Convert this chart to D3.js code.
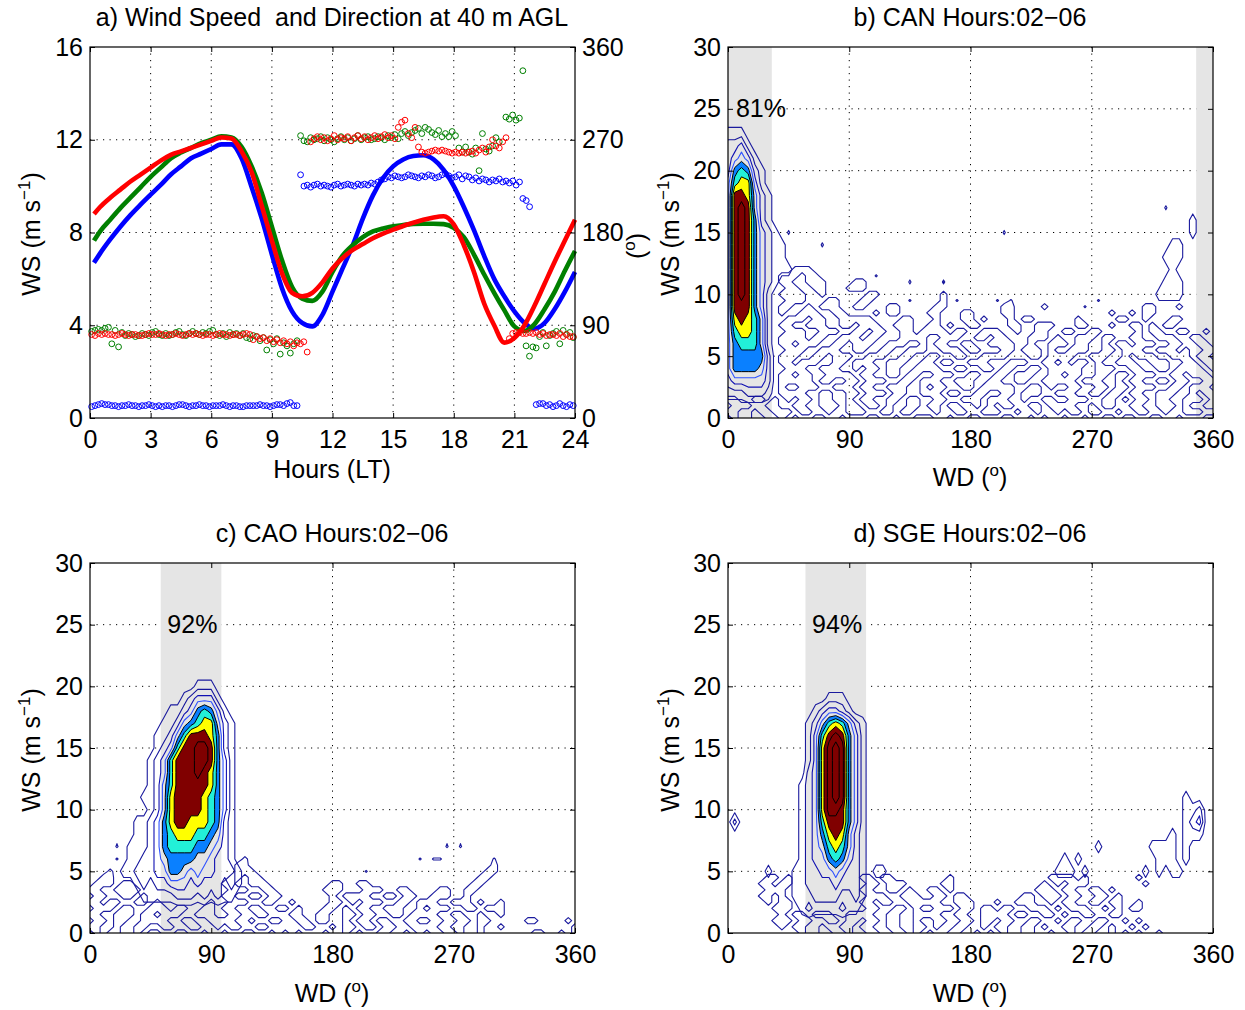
<!DOCTYPE html>
<html>
<head>
<meta charset="utf-8">
<script src="https://cdn.jsdelivr.net/npm/d3@7"></script>
<style>
  body { margin: 0; background: #fff; }
  svg text { font-family: "Liberation Sans", Arial, Helvetica, sans-serif; fill: #000; white-space: pre; }
</style>
</head>
<body>
<svg id="chart" width="1245" height="1010"></svg>
<script>
// ---------- panel a data ----------
var wsHours = [0.2, 0.5, 1, 1.5, 2, 2.5, 3, 3.5, 4, 4.5, 5, 5.5, 6, 6.5, 7, 7.5, 8, 8.5, 9, 9.5,
    10, 10.5, 11, 11.5, 12, 12.5, 13, 13.5, 14, 14.5, 15, 15.5, 16, 16.5, 17, 17.5, 18, 18.5, 19, 19.5,
    20, 20.5, 21, 21.5, 22, 22.5, 23, 23.5, 24];
var wsRed = [8.8, 9.1, 9.5, 9.85, 10.2, 10.5, 10.8, 11.1, 11.35, 11.5, 11.65, 11.8, 11.95, 12.1, 12.05, 11.5, 10.6, 9.15, 7.65, 6.25,
    5.4, 5.25, 5.4, 5.85, 6.45, 6.9, 7.25, 7.5, 7.75, 7.95, 8.12, 8.28, 8.42, 8.55, 8.65, 8.7, 8.35, 7.45, 6.3, 4.95,
    4.0, 3.25, 3.45, 4.0, 4.85, 5.8, 6.75, 7.65, 8.55];
var wsGreen = [7.65, 8.05, 8.55, 9.05, 9.5, 9.95, 10.4, 10.8, 11.2, 11.45, 11.65, 11.85, 12.0, 12.15, 12.1, 11.7, 10.85, 9.7, 8.25, 6.8,
    5.65, 5.15, 5.05, 5.45, 6.3, 7.0, 7.45, 7.8, 8.05, 8.17, 8.27, 8.32, 8.37, 8.38, 8.38, 8.36, 8.2, 7.8, 7.05, 6.2,
    5.4, 4.65, 3.95, 3.75, 4.05, 4.7, 5.45, 6.35, 7.2];
var wsBlue = [6.7, 7.1, 7.7, 8.25, 8.75, 9.2, 9.63, 10.05, 10.5, 10.85, 11.2, 11.4, 11.6, 11.8, 11.8, 11.2, 9.95, 8.6, 7.05, 5.6,
    4.6, 4.1, 3.95, 4.45, 5.45, 6.45, 7.45, 8.6, 9.6, 10.35, 10.85, 11.15, 11.3, 11.33, 11.15, 10.7, 10.0, 9.1, 8.1, 7.0,
    6.0, 5.25, 4.6, 4.1, 3.85, 4.1, 4.7, 5.45, 6.3];

// wind direction, 10-minute values: [start hour, values]
var wdBlue = [
  [0.08, [11,12,13,14,13,13,12,12,11,12,12,13,12,12,11,12,12,13,12,11,12,11,12,12,11,12,13,13,12,11,12,12,13,12,12,11,12,12,12,13,12,11,12,12,11,11,12,12,12,12,13,12,12,11,12,13,13,12,14,15,12,12]],
  [10.42, [236,225,226,224,226,227,225,226,225,
           224,226,227,225,226,227,226,225,227,226,227,226,228,227,229,231,232,
           234,233,235,234,233,234,236,235,234,233,235,234,236,235,233,234,236,237,235,233,234,236,232,235,234,
           231,233,230,232,231,229,231,230,232,229,230,228,230,226,229]],
  [21.42, [213,211,205]],
  [22.08, [13,14,14,12,13,11,12,14,12,11,13,12]]
];
var wdGreen = [
  [0.08, [84,85,86,85,87,88,72,85,69,83,80,82,81,79,80,82,81,80,83,84,81,80,82,80,81,83,84,81,80,82,84,82,81,83,82,84,85,81,80,82,79,83,81,82,80,82,78,77,80,79,75,78,66,76,72,77,62,73,70,63,72,75]],
  [10.42, [274,269,268,272,270,271,273,269,272,270,268,271,273,270,272,269,271,274,270,272,273,270,271,273,272,270,274,272,275,
           271,276,278,274,277,279,281,276,282,280,277,275,279,273,
           276,273,278,274,262,258,
           263,258,256,262,240,276,261,259,264,272,268]],
  [20.58, [292,290,294,289,291]],
  [21.42, [337]],
  [21.58, [70,60,69,68,79,83,70,80,82,84,72,85,81,83,78]]
];
var wdRed = [
  [0.08, [81,80,82,81,82,81,81,80,81,82,81,80,81,81,80,80,81,82,81,81,82,81,80,81,81,82,81,80,81,82,81,82,81,80,81,81,80,81,82,81,81,80,81,81,80,81,82,81,
          76,79,77,78,75,77,74,76,73,75,72,74,70,73,72,74,64]],
  [10.92, [268,271,273,270,272,269,271,274,270,272,271,273,269,272,274,271,273,270,272,274,271,273,275,272,274,271,
           282,287,289,276,272,282,
           263,258,257,258,259,260,259,260,259,258,257,258,257,
           258,257,258,259,257,260,262,258,263,270,264,262,268,272]],
  [20.75, [77,82,83,83,82,82,83,82,83,81,82,80,81,81,80,82,79,81,79,79]]
];
var hourTicks = [0, 3, 6, 9, 12, 15, 18, 21, 24];
var wsTicksA = [0, 4, 8, 12, 16];
var wdTicksA = [0, 90, 180, 270, 360];

// ---------- panels b-d data: occurrence classes ----------
// columns: WD = 0..360 every 5 deg (groups of 10); rows listed from high WS to WS = 0
// coarse grids: 1 m/s rows from WS 24; fine grids: 0.5 m/s rows (low-speed scatter)
// '.' = 0, 'a' = trace, 'b' = 0.8, digits = class, 'A' = 10
var wdStep = 5, wsStepCoarse = 1, wsStepFine = 0.5;
var E = ".......... .......... .......... .......... .......... .......... .......... ...";
var gridB = [
  E,
  "111....... .......... .......... .......... .......... .......... .......... ...",
  "2231...... .......... .......... .......... .......... .......... .......... ...",
  "23431..... .......... .......... .......... .......... .......... .......... ...",
  "256521.... .......... .......... .......... .......... .......... .......... ...",
  "367731.... .......... .......... .......... .......... .......... .......... ...",
  "3887421... .......... .......... .......... .......... .......... .......... ...",
  "3898421... .......... .......... .......... .......... .......... .....a.... ...",
  "3898521... .......... .......... .......... .......... .......... .........1 ...",
  "38985321.a .......... .......... .......... .a........ .......... .........1 ...",
  "389853211. ....a..... .......... .......... .......... .......... ......11.. ...",
  "389853211. .......... .......... .......... .......... .......... .....111.. ...",
  "3898532111 .......... .......... .......... .......... .......... ......1... ...",
  "38985321.. .......... .......a.. ..a....... .......... .......... .....111.. ...",
  "3898531... .......... .......... .......... .......... .......... ....1111.. ...",
  "3888531... .......... .......... .......... .......... .......... .......... ...",
  "3787641... .......... .......... .......... .......... .......... .......... ...",
  "3677641... .......... .......... .......... .......... .......... .......... ...",
  "3566641... .......... .......... .......... .......... .......... .......... ...",
  "3555552... .......... .......... .......... .......... .......... .......... ...",
  "3555542... .......... .......... .......... .......... .......... .......... ...",
  "2333332... .......... .......... .......... .......... .......... .......... ...",
  "1112221... .......... .......... .......... .......... .......... .......... ...",
  E,
  E
];
var fineB = [
  ".......... 111....... .......... .......... .......... .......... .......... ...",
  "........11 1.11...... ..a....... .......... .......... .......... .......... ...",
  "........11 ..111....1 1......... ..a....... .......... .......... .......... ...",
  ".........1 1..11...11 1......... .......... .......... .......... .......... ...",
  "........11 11..1..... .11....... ..1....... .......... .......... .......... ...",
  ".........1 11...11... 11.....a.. ..1.a..... a.a....... .....a.... .......... ...",
  "........11 ..1.111..1 1...11.... .11....... .11....1.. ...a...... ..11...1.. ...",
  "........1. .111..11.. ..1.11.... 11...11... .11....... .......1.. 1.11...... ...",
  ".........1 11.11..111 11....11.. .1...11.1. ..1.11.... ..1.....11 ..1...11.. ...",
  "........11 ..111..11. 111..111.. 11.1..11.. ..11..111. ..11...1.. 11.1.11... ...",
  ".........1 11..111..1 1.11..11.1 111.11..11 1..1..11.. 11..11.... .1.11..11. .1.",
  "........11 11.11..111 .11...1111 ..111..11. 11...111.1 ..111.11.. 11..111..1 1..",
  "........11 .111..11.1 11..111..1 .11..11..1 111..1..11 1.11..1.11 .111..11.. 11.",
  ".........1 11..111..1 1..11..111 ..111.11.. .11.111.1. .111..11.1 11..111.1. .11",
  "........11 1..11.111. .111..11.. 11..11..11 11...11.11 11..111..1 .111..111. 11.",
  "........11 .111..11.1 11..111..1 1.11..111. ..111..11. 1.11.1..11 1..111..11 .11",
  ".........1 11..111..1 .11.11..11 11..11..11 .11..11.11 111..111.. 11..11.111 1.1",
  "........11 .11..1111. 11..11.11. .111..11.. 11.111..11 .11..11.11 .111..11.1 11.",
  "........11 111.11..11 .111..11.1 11..111..1 1..11..111 11.111..1. 11..11.11. .11",
  "........1. .111..111. 11..111..1 .11..11.11 111..11.1. .11..11.11 .111..11.1 11.",
  "........11 11..11..11 .111.11..1 11.11..11. .11.111..1 11..11.11. 11..111..1 .11",
  "11..11.1.1 .11.11..1. 11..11.11. .11..111.1 11..1..11. .111..11.1 .11.11..11 1.1",
  ".111..11.. 11..111.11 .11.1..11. 11.11..1.1 .11..11.11 11..1.11.. 11..111.1. .11",
  "11..1..111 .11..1..11 1..11.11.. .1..11..11 1..1..1..1 .11.11..1. .11..1..11 1..",
  ".1..11..1. 1..11..1.. .11..1..11 1..1..11.. .11..1.1.. 1..1..11.1 1..11..1.. .11"
];
var gridC = [
  E, E, E, E,
  ".......... ......111. .......... .......... .......... .......... .......... ...",
  ".......... ....123331 .......... .......... .......... .......... .......... ...",
  ".......... ..11235653 1......... .......... .......... .......... .......... ...",
  ".......... .112456774 21........ .......... .......... .......... .......... ...",
  ".......... 1124688875 21........ .......... .......... .......... .......... ...",
  ".......... 1236889985 21........ .......... .......... .......... .......... ...",
  ".........1 2368889985 31........ .......... .......... .......... .......... ...",
  ".........1 2368889875 31........ .......... .......... .......... .......... ...",
  ".........1 2468888875 31........ .......... .......... .......... .......... ...",
  "........11 2478888765 31........ .......... .......... .......... .......... ...",
  ".........1 2478888765 31........ .......... .......... .......... .......... ...",
  ".......112 3578877765 21........ .......... .......... .......... .......... ...",
  ".......112 3567776654 21........ .......... .......... .......... .......... ...",
  "......1112 3566665543 21........ .......... .......... .......... .......... ...",
  "......1122 3455554432 21........ .......... .......... .......... .......... ...",
  ".....11222 3355434332 221....... .......... .......... .......... .......... ...",
  ".......121 2233323222 121....... .......... .......... .......... .......... ...",
  "........11 1112221212 11........ .......... .......... .......... .......... ...",
  E, E, E
];
var fineC = [
  "....a..... .......... .......... .......... .......... ...a.a.... .......... ...",
  ".......... .......... .......... .......... .......... .......... .......... ...",
  "....a..... .......... ...b...... .......... .........a .aa....... a......... ...",
  ".......... .......... ..11...... .......... .......... .......... 1......... ...",
  "...b...... .......... ..111..... .......... .a........ .........1 1......... ...",
  "..11...... .......... .11.11.... .......... .......... ........11 .......... ...",
  ".111.11... .......... 11..111... ......11.. 11........ .......11. .......... ...",
  "11..1111.. .......... .111..11.. .....111.. .111..11.. ..11..11.. .......... ...",
  ".11..11.1. .......... 11..11.11. ......1.11 11..11.11. .111..1... .......... ...",
  "11.11..11. 1.......1. .111..11.. 1.....11.1 .111..11.1 11..111.1. .1........ ...",
  ".111.11..1 11.11..11. 11..11..11 .1...11.1. 11..111..1 .111..11.1 11........ ...",
  "11..111.11 .111..111. .11..11... 11..11..11 .11..11.11 11..11..1. .1........ ...",
  ".11.11..11 11..11..11 11..1..11. .11.11..1. 11.11..11. .11..11.11 .....11... .1.",
  "11..1..11. .11..11..1 .11..11... ..11..1.11 .11.11..11 11..11..1. .1........ ..1",
  ".1.11..1.1 1..11..1.. 1..11..1.1 .1...1..1. 1..11..1.1 .11..1..1. ......11.. 1.1"
];
var gridD = [
  E, E, E, E, E,
  ".......... .....111.. .......... .......... .......... .......... .......... ...",
  ".......... ...123321. .......... .......... .......... .......... .......... ...",
  ".......... ..12467642 1......... .......... .......... .......... .......... ...",
  ".......... ..13689853 1......... .......... .......... .......... .......... ...",
  ".......... ..1379A953 1......... .......... .......... .......... .......... ...",
  ".......... ..1379A953 1......... .......... .......... .......... .......... ...",
  ".......... ..2379A953 1......... .......... .......... .......... .......... ...",
  ".......... .12379A953 1......... .......... .......... .......... .......... ...",
  ".......... .12379A953 1......... .......... .......... .......... ........1. ...",
  ".......... .123799853 1......... .......... .......... .......... ........11 2..",
  ".2........ .123688853 1......... .......... .......... .......... ........12 3..",
  ".......... .123578742 1......... .......... .......... .......... ......1.11 1..",
  ".......... .123467642 1......... .......... .......... .....1.... ...1111.1. ...",
  ".......... .123356532 1......... .......... .......... 1.1....... ....111.1. ...",
  "......1... 1122334322 1.11...... .......... .........1 11.1...... ..1.1.11.. ...",
  ".......... 1122223222 1......... .......... .......... .......... .......... ...",
  ".......... 1112222112 1......... .......... .......... .......... .......... ...",
  ".......... .121111211 .......... .......... .......... .......... .......... ...",
  E, E
];
var fineD = [
  "......11.1 .......... 11.11..... ...1...... ........11 11.1...... .1........ ...",
  ".....11.11 .......... .11.111... ..11...... .......1.1 .111...... ..1....... ...",
  "......111. .......... 11..11.1.. 11.1...... ......111. 11..11.1.. .......... ...",
  ".....11.1. .......... .111..111. .11.11.... ....11.111 .11..11.1. .......... ...",
  "......1.11 .......... 11.11..111 11..111... 1..111..1. 11..11.11. .1........ ...",
  ".......111 .......... .11..11.1. .111.11.11 .11..111.1 .111..1.1. 11........ ...",
  "........1. 11.111..11 11..11..11 11..11..11 11.11..11. 1..11..11. .......... ...",
  ".......111 .11..11.11 .11.11..1. .11..11.11 .11..11..1 .11..11..1 .1........ ...",
  "........1. 11..1..11. 11..11..11 .1..11..1. 11..11.1.. 11..11.1.. 1.1....... ...",
  ".......... .1..11..1. .11..11.1. 1..11..1.1 .1..11..1. .1.11..1.1 .1..1..... ..."
];
var cellValue = {".": 0, "a": 0.6, "b": 0.8, "1": 1, "2": 2, "3": 3, "4": 4, "5": 5, "6": 6, "7": 7, "8": 8, "9": 9, "A": 10};
var contourLevels = [0.5, 1.5, 2.5, 3.5, 4.5, 5.5, 6.5, 7.5, 8.5, 9.5];
var bandsB = [[0, 32.5], [347.5, 360]];
var bandsC = [[52.5, 97.5]];
var bandsD = [[57.5, 102.5]];
var pctLabels = ["81%", "92%", "94%"];
var pctWD = [24.5, 76, 81];
var wdTicks = [0, 90, 180, 270, 360];
var wsTicks = [0, 5, 10, 15, 20, 25, 30];

// ---------- drawing ----------
var svg = d3.select("#chart");
var FS = 25;

var levelStyle = [
  {stroke: "#1b1b9e", fill: "none"},
  {stroke: "#15159c", fill: "none"},
  {stroke: "#1010b2", fill: "none"},
  {stroke: "#2f52ff", fill: "none"},
  {stroke: "#000", fill: "#0a80ff"},
  {stroke: "#000", fill: "#22f0d8"},
  {stroke: "#000", fill: "#ffff00"},
  {stroke: "#000", fill: "#800000"},
  {stroke: "#000", fill: "none"},
  {stroke: "#000", fill: "none"}
];

function styleAxis(g) {
    g.attr("font-size", FS).attr("font-family", null);
    g.select(".domain").remove();
    g.selectAll(".tick line").attr("stroke", "#000");
    g.selectAll(".tick text").attr("fill", "#000");
}

function dottedGrid(p, xs, ys, xv, yv) {
    var g = svg.append("g");
    g.selectAll(null).data(xv).enter().append("line")
        .attr("x1", function (d) { return xs(d); }).attr("x2", function (d) { return xs(d); })
        .attr("y1", p.y).attr("y2", p.y + p.h);
    g.selectAll(null).data(yv).enter().append("line")
        .attr("y1", function (d) { return ys(d); }).attr("y2", function (d) { return ys(d); })
        .attr("x1", p.x).attr("x2", p.x + p.w);
    g.selectAll("line").attr("stroke", "#000").attr("stroke-width", 1).attr("stroke-dasharray", "1.2,5.3");
}

function axes(p, xs, ys, xt, yt, ys2, yt2) {
    var b = svg.append("g").attr("transform", "translate(0," + (p.y + p.h) + ")")
        .call(d3.axisBottom(xs).tickValues(xt).tickSize(-5).tickSizeOuter(0).tickPadding(12));
    var t = svg.append("g").attr("transform", "translate(0," + p.y + ")")
        .call(d3.axisTop(xs).tickValues(xt).tickSize(-5).tickSizeOuter(0).tickFormat(""));
    var l = svg.append("g").attr("transform", "translate(" + p.x + ",0)")
        .call(d3.axisLeft(ys).tickValues(yt).tickSize(-5).tickSizeOuter(0).tickPadding(7));
    var r = svg.append("g").attr("transform", "translate(" + (p.x + p.w) + ",0)")
        .call(d3.axisRight(ys2 || ys).tickValues(yt2 || yt).tickSize(-5).tickSizeOuter(0).tickPadding(7)
            .tickFormat(ys2 ? null : ""));
    [b, t, l, r].forEach(styleAxis);
    svg.append("rect").attr("x", p.x).attr("y", p.y).attr("width", p.w).attr("height", p.h)
        .attr("fill", "none").attr("stroke", "#000").attr("stroke-width", 1.2);
}

// label with a superscript part: parts = [before, sup, after]
function supText(x, y, rot, parts) {
    var t = svg.append("text").attr("font-size", FS).attr("text-anchor", "middle")
        .attr("transform", "translate(" + x + "," + y + ")" + (rot ? " rotate(" + rot + ")" : ""));
    t.append("tspan").text(parts[0]);
    t.append("tspan").attr("font-size", 17).attr("dy", -10).text(parts[1]);
    t.append("tspan").attr("dy", 10).text(parts[2]);
    return t;
}

function title(x, y, s) {
    svg.append("text").attr("x", x).attr("y", y).attr("text-anchor", "middle").attr("font-size", FS).text(s);
}

// ----- panel a -----
var pa = {x: 90, y: 47, w: 485, h: 371};
var xA = d3.scaleLinear().domain([0, 24]).range([pa.x, pa.x + pa.w]);
var yWS = d3.scaleLinear().domain([0, 16]).range([pa.y + pa.h, pa.y]);
var yWD = d3.scaleLinear().domain([0, 360]).range([pa.y + pa.h, pa.y]);

dottedGrid(pa, xA, yWS, hourTicks.slice(1, -1), wsTicksA.slice(1, -1));

var lineGen = d3.line()
    .x(function (d, i) { return xA(wsHours[i]); })
    .y(function (d) { return yWS(d); })
    .curve(d3.curveMonotoneX);

[[wsBlue, "#0000ff"], [wsGreen, "#008000"], [wsRed, "#ff0000"]].forEach(function (s) {
    svg.append("path").datum(s[0]).attr("d", lineGen)
        .attr("fill", "none").attr("stroke", s[1]).attr("stroke-width", 4.6)
        .attr("stroke-linejoin", "round").attr("stroke-linecap", "butt");
});

[[wdBlue, "#0000ff"], [wdGreen, "#008000"], [wdRed, "#ff0000"]].forEach(function (s) {
    var pts = [];
    s[0].forEach(function (seg) {
        seg[1].forEach(function (v, k) { pts.push({t: seg[0] + k / 6, v: v}); });
    });
    svg.append("g").selectAll("circle").data(pts).enter().append("circle")
        .attr("cx", function (d) { return xA(d.t); })
        .attr("cy", function (d) { return yWD(d.v); })
        .attr("r", 2.9)
        .attr("fill", "none").attr("stroke", s[1]).attr("stroke-width", 1);
});

axes(pa, xA, yWS, hourTicks, wsTicksA, yWD, wdTicksA);
title(332, 26, "a) Wind Speed  and Direction at 40 m AGL");
svg.append("text").attr("x", 332).attr("y", 478).attr("text-anchor", "middle").attr("font-size", FS).text("Hours (LT)");
supText(40, 234, -90, ["WS (m s", "\u22121", ")"]);
supText(645, 246, -90, ["(", "o", ")"]);

// ----- contour panels -----
function drawContours(g, grid, wsStep, x, y) {
    var rows = grid.map(function (r) { return r.replace(/ /g, ""); }).reverse();
    var nx = 73, ny = rows.length, vals = [];
    rows.forEach(function (r) {
        for (var i = 0; i < nx; i++) vals.push(cellValue[r.charAt(i)] || 0);
    });
    var proj = d3.geoTransform({
        point: function (gx, gy) { this.stream.point(x((gx - 0.5) * wdStep), y((gy - 0.5) * wsStep)); }
    });
    var path = d3.geoPath(proj);
    var cs = d3.contours().size([nx, ny]).thresholds(contourLevels)(vals);
    cs.forEach(function (c, k) {
        var st = levelStyle[k];
        var d = path(c);
        if (!d) return;
        g.append("path").attr("d", d)
            .attr("fill", st.fill).attr("fill-rule", "evenodd")
            .attr("stroke", st.stroke).attr("stroke-width", k < 4 ? 1.1 : 1)
            .attr("stroke-linejoin", "round");
    });
}

function contourPanel(p, id, grid, fine, bands, pi) {
    var x = d3.scaleLinear().domain([0, 360]).range([p.x, p.x + p.w]);
    var y = d3.scaleLinear().domain([0, 30]).range([p.y + p.h, p.y]);

    dottedGrid(p, x, y, wdTicks.slice(1, -1), wsTicks.slice(1, -1));

    svg.append("g").selectAll("rect").data(bands).enter().append("rect")
        .attr("x", function (d) { return x(d[0]); })
        .attr("width", function (d) { return x(d[1]) - x(d[0]); })
        .attr("y", p.y).attr("height", p.h).attr("fill", "#e5e5e5");

    svg.append("clipPath").attr("id", id).append("rect")
        .attr("x", p.x).attr("y", p.y).attr("width", p.w).attr("height", p.h);
    var cg = svg.append("g").attr("clip-path", "url(#" + id + ")");
    drawContours(cg, fine, wsStepFine, x, y);
    drawContours(cg, grid, wsStepCoarse, x, y);

    svg.append("text").attr("x", x(pctWD[pi])).attr("y", y(25) + 8)
        .attr("text-anchor", "middle").attr("font-size", FS).text(pctLabels[pi]);

    axes(p, x, y, wdTicks, wsTicks);
}

var pb = {x: 728, y: 47, w: 485, h: 371};
var pc = {x: 90, y: 563, w: 485, h: 370};
var pd = {x: 728, y: 563, w: 485, h: 370};

contourPanel(pb, "clipb", gridB, fineB, bandsB, 0);
contourPanel(pc, "clipc", gridC, fineC, bandsC, 1);
contourPanel(pd, "clipd", gridD, fineD, bandsD, 2);

title(970, 26, "b) CAN Hours:02\u221206");
title(332, 542, "c) CAO Hours:02\u221206");
title(970, 542, "d) SGE Hours:02\u221206");

supText(970, 486, 0, ["WD (", "o", ")"]);
supText(332, 1002, 0, ["WD (", "o", ")"]);
supText(970, 1002, 0, ["WD (", "o", ")"]);
supText(679, 234, -90, ["WS (m s", "\u22121", ")"]);
supText(40, 750, -90, ["WS (m s", "\u22121", ")"]);
supText(679, 750, -90, ["WS (m s", "\u22121", ")"]);
</script>
</body>
</html>
